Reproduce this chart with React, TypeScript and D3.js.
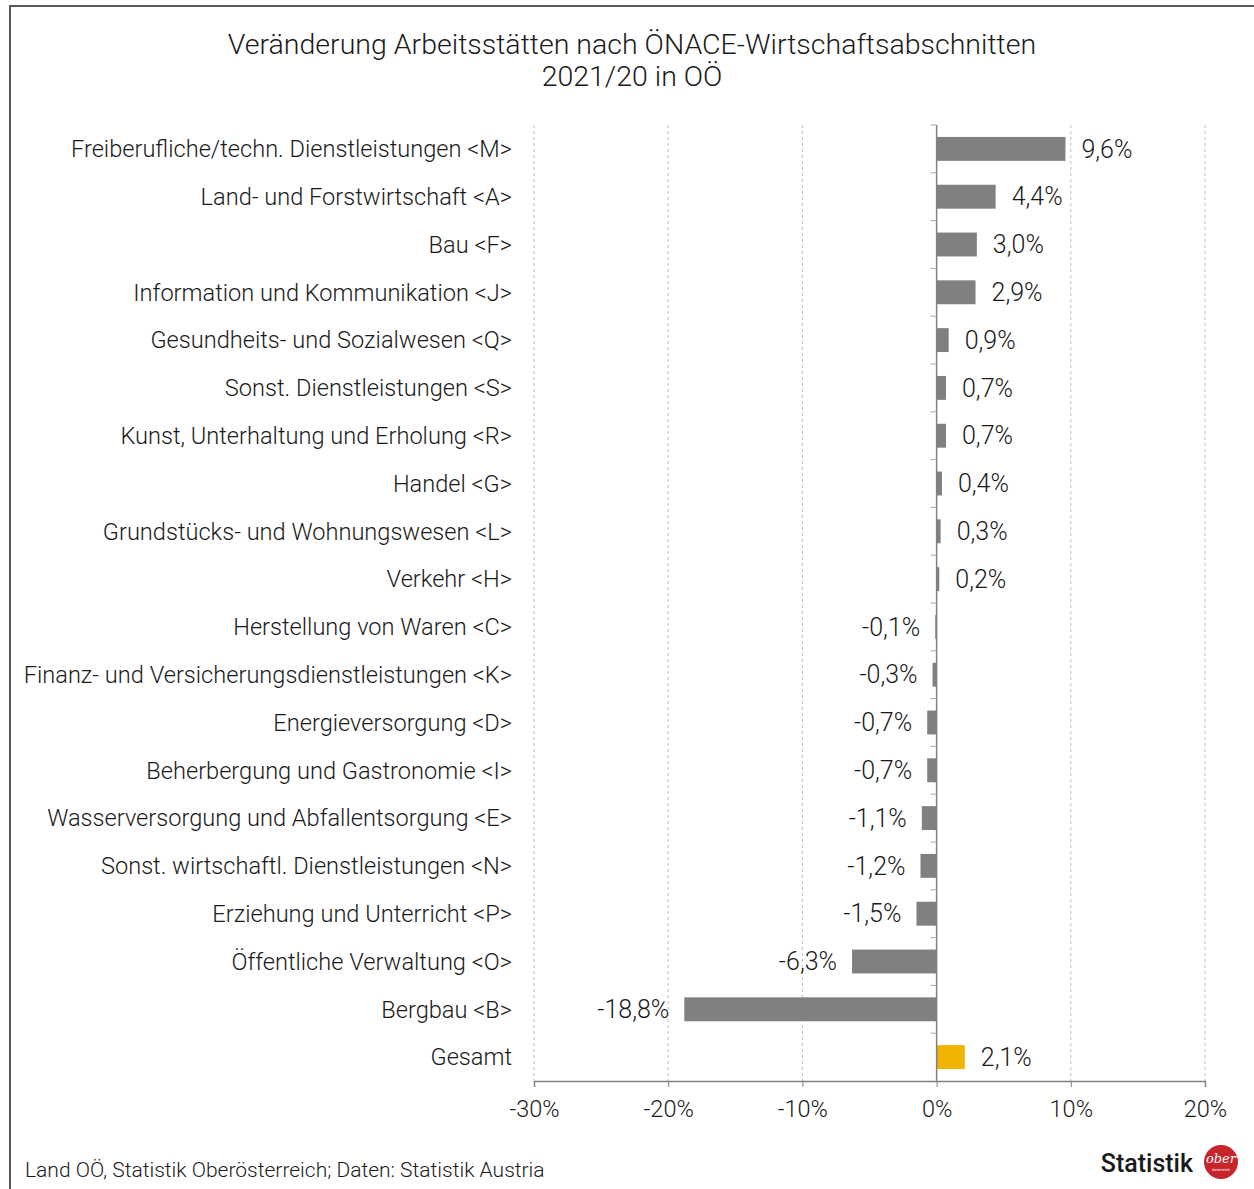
import React, { useRef, useEffect } from "react";
import * as d3 from "d3";

const categories = [
  "Freiberufliche/techn. Dienstleistungen <M>",
  "Land- und Forstwirtschaft <A>",
  "Bau <F>",
  "Information und Kommunikation <J>",
  "Gesundheits- und Sozialwesen <Q>",
  "Sonst. Dienstleistungen <S>",
  "Kunst, Unterhaltung und Erholung <R>",
  "Handel <G>",
  "Grundstücks- und Wohnungswesen <L>",
  "Verkehr <H>",
  "Herstellung von Waren <C>",
  "Finanz- und Versicherungsdienstleistungen <K>",
  "Energieversorgung <D>",
  "Beherbergung und Gastronomie <I>",
  "Wasserversorgung und Abfallentsorgung <E>",
  "Sonst. wirtschaftl. Dienstleistungen <N>",
  "Erziehung und Unterricht <P>",
  "Öffentliche Verwaltung <O>",
  "Bergbau <B>",
  "Gesamt",
];
const values = [9.6, 4.4, 3.0, 2.9, 0.9, 0.7, 0.7, 0.4, 0.3, 0.2, -0.1, -0.3, -0.7, -0.7, -1.1, -1.2, -1.5, -6.3, -18.8, 2.1];
const xTicks = [-30, -20, -10, 0, 10, 20];

const W = 1254;
const H = 1189;
const FONT = "Roboto, 'Liberation Sans', sans-serif";

function App() {
  const svgRef = useRef<SVGSVGElement>(null);

  useEffect(() => {
    const svg = d3.select(svgRef.current);
    svg.selectAll("*").remove();

    const x = d3.scaleLinear().domain([-30, 20]).range([534, 1205]);
    const y = d3.scaleBand().domain(categories).range([125, 1081]).paddingInner(0.5).paddingOuter(0.25);
    const band = d3.scaleBand().domain(categories).range([125, 1081]);

    // frame
    svg.append("path").attr("d", `M10,${H} L10,6 L${W},6`).attr("fill", "none").attr("stroke", "#595959").attr("stroke-width", 2);

    // title
    const title = svg.append("text").attr("text-anchor", "middle").attr("font-family", FONT).attr("font-weight", 300)
      .attr("font-size", 28.5).attr("fill", "#1a1a1a");
    title.append("tspan").attr("x", 632).attr("y", 54).text("Veränderung Arbeitsstätten nach ÖNACE-Wirtschaftsabschnitten");
    title.append("tspan").attr("x", 632).attr("y", 86).text("2021/20 in OÖ");

    // grid
    svg.append("g").selectAll("line").data(xTicks.filter((t) => t !== 0)).join("line")
      .attr("x1", (d) => x(d)).attr("x2", (d) => x(d))
      .attr("y1", 125).attr("y2", 1081)
      .attr("stroke", "#bfbfbf").attr("stroke-dasharray", "3,3");

    // bottom axis
    const ax = svg.append("g").attr("transform", "translate(0,1081)")
      .call(d3.axisBottom(x).tickValues(xTicks).tickSize(6).tickFormat((d) => `${d}%`));
    ax.select(".domain").attr("stroke", "#808080").attr("stroke-width", 1.5);
    ax.selectAll(".tick line").attr("stroke", "#808080");
    ax.selectAll(".tick text").attr("font-family", FONT).attr("font-weight", 300).attr("font-size", 23.5)
      .attr("fill", "#1a1a1a").attr("dy", "1.05em").attr("y", 11);

    // bars
    svg.append("g").selectAll("rect").data(values).join("rect")
      .attr("x", (d) => x(Math.min(0, d)))
      .attr("width", (d) => Math.abs(x(d) - x(0)))
      .attr("y", (_, i) => y(categories[i])!)
      .attr("height", y.bandwidth())
      .attr("fill", (_, i) => (categories[i] === "Gesamt" ? "#f0b400" : "#808080"));

    // zero axis with category ticks
    svg.append("line").attr("x1", x(0)).attr("x2", x(0)).attr("y1", 125).attr("y2", 1081).attr("stroke", "#808080").attr("stroke-width", 1.5);
    svg.append("g").selectAll("line").data(categories).join("line")
      .attr("x1", x(0) - 6).attr("x2", x(0))
      .attr("y1", (d) => band(d)!).attr("y2", (d) => band(d)!)
      .attr("stroke", "#a6a6a6");

    // category labels
    svg.append("g").selectAll("text").data(categories).join("text")
      .attr("x", 512).attr("y", (d) => band(d)! + band.bandwidth() / 2)
      .attr("dy", "0.35em").attr("text-anchor", "end")
      .attr("font-family", FONT).attr("font-weight", 300).attr("font-size", 23.6).attr("fill", "#1a1a1a")
      .text((d) => d);

    // value labels
    svg.append("g").selectAll("text").data(values).join("text")
      .attr("x", (d) => (d >= 0 ? x(d) + 16 : x(d) - 15))
      .attr("y", (_, i) => band(categories[i])! + band.bandwidth() / 2)
      .attr("dy", "0.35em").attr("text-anchor", (d) => (d >= 0 ? "start" : "end"))
      .attr("font-family", FONT).attr("font-weight", 300).attr("font-size", 25).attr("fill", "#1a1a1a")
      .text((d) => `${d.toFixed(1).replace(".", ",")}%`);

    // footer
    svg.append("text").attr("x", 25).attr("y", 1177).attr("font-family", FONT).attr("font-weight", 300)
      .attr("font-size", 21).attr("fill", "#1a1a1a")
      .text("Land OÖ, Statistik Oberösterreich; Daten: Statistik Austria");

    // logo
    svg.append("text").attr("x", 1193).attr("y", 1172).attr("text-anchor", "end").attr("font-family", FONT)
      .attr("font-weight", 500).attr("font-size", 25).attr("fill", "#1a1a1a").text("Statistik");
    svg.append("circle").attr("cx", 1221).attr("cy", 1162).attr("r", 17).attr("fill", "#c8242b");
    svg.append("text").attr("x", 1221).attr("y", 1163).attr("text-anchor", "middle").attr("font-family", "DejaVu Serif")
      .attr("font-style", "italic").attr("font-size", 13).attr("fill", "#fff").text("ober");
    svg.append("text").attr("x", 1221).attr("y", 1171).attr("text-anchor", "middle").attr("font-family", FONT)
      .attr("font-size", 4).attr("fill", "#fff").text("österreich");
  }, []);

  return (
    <div style={{ position: "absolute", left: 0, top: 0 }}>
      <svg ref={svgRef} width={W} height={H} style={{ display: "block", background: "#fff" }} />
    </div>
  );
}

export default App;
